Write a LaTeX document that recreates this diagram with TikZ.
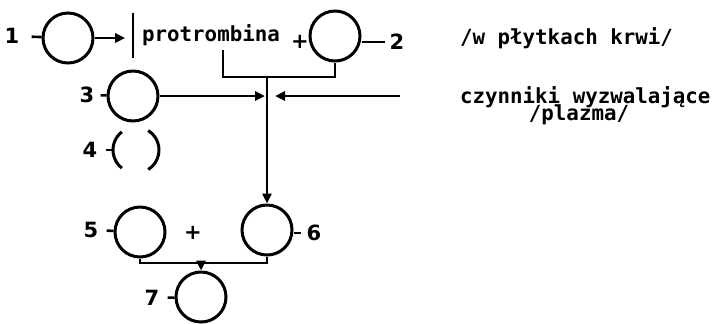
\documentclass[tikz,border=0pt]{standalone}
\usepackage{fontspec}
\usepackage{tikz}
\usetikzlibrary{arrows.meta,positioning,calc}
\newfontfamily\typefont{DejaVu Sans Mono}
\newfontfamily\handfont{DejaVu Sans}

\begin{document}
\begin{tikzpicture}[
  x=0.5pt, y=-0.5pt,
  every node/.style={font=\typefont\bfseries\fontsize{10.4}{12}\selectfont},
  factor/.style={draw, circle, line width=1.5pt, minimum size=25pt, inner sep=0pt},
  num/.style={font=\handfont\bfseries\fontsize{10.5}{12}\selectfont, inner xsep=3pt, inner ysep=1pt},
  tick/.style={line width=1.3pt},
  joint/.style={line width=1.3pt},
  flow/.style={-{Triangle[length=5pt, width=4.5pt]}, line width=1.3pt}
]
  % fixed page size
  \useasboundingbox (0,0) rectangle (715,323);

  % top row: 1 -> protrombina + 2
  \node[factor] (c1) at (68, 38) {};
  \node[num, inner xsep=6pt] (l1) at (12, 36) {1};
  \node[minimum height=22.5pt, inner xsep=4.25pt] (prot) at (211, 35.5) {protrombina};
  \node[num, inner xsep=1pt] (plus1) at (300, 42) {+};
  \node[factor] (c2) at (335, 36) {};
  \node[num, inner xsep=2pt] (l2) at (397, 42) {2};
  \node[anchor=west] (platelets) at (453, 38) {/w płytkach krwi/};

  \draw[tick] (l1) -- (c1);
  \draw[tick] (l2.west) -- (l2.west -| c2.east);
  \draw[line width=0.8pt] (prot.north west) -- (prot.south west);
  \draw[flow, shorten >=4pt] (c1.east) -- (c1.east -| prot.west);

  % junction of protrombina and 2
  \coordinate (j1) at (267, 77);
  \coordinate (m3) at (267, 96);
  \draw[joint] ([xshift=6pt, yshift=4pt]prot.south) |- (j1) -| (c2.south);

  % 3 and triggering factors from plasma
  \node[factor] (c3) at (133, 96) {};
  \node[num] (l3) at (87, 95) {3};
  \coordinate (plasma) at (400, 96);
  \node[anchor=west] (trigger) at (453, 97) {czynniki wyzwalające};
  \node (plazma) at (579, 115) {/plazma/};

  \draw[tick] (l3) -- (c3);
  \draw[flow] (c3.east) -- ([xshift=-1pt]m3);
  \draw[flow] (plasma) -- ([xshift=4pt]m3);

  % 4 in brackets
  \node[circle, minimum size=23pt, inner sep=0pt] (p4) at (136, 150) {};
  \node[num, inner xsep=4pt] (l4) at (90, 150) {4};
  \draw[tick] (l4) -- (p4);
  \draw[line width=1.5pt] (p4.center) ++(128:11.5pt) arc[start angle=128, end angle=232, radius=11.5pt];
  \draw[line width=1.5pt] (p4.center) ++(-58:11.5pt) arc[start angle=-58, end angle=58, radius=11.5pt];

  % second row: 5 + 6
  \node[factor] (c5) at (140, 232) {};
  \node[num, inner xsep=4pt] (l5) at (91, 230) {5};
  \node[num, inner xsep=1pt] (plus2) at (193, 233) {+};
  \node[factor] (c6) at (267, 230) {};
  \node[num, inner xsep=2.5pt] (l6) at (314, 233) {6};

  \draw[tick] (l5) -- (c5);
  \draw[tick] (l6.west) -- (l6.west -| c6.east);
  \draw[flow] (j1) -- (c6.north);

  % product 7
  \coordinate (j2) at (201, 263);
  \node[factor] (c7) at (201, 297) {};
  \node[num, inner xsep=4pt] (l7) at (152, 298) {7};

  \draw[tick] (l7) -- (c7);
  \draw[joint] (c5.south) |- (j2) -| (c6.south);
  \draw[flow] (j2) -- (c7.north);

\end{tikzpicture}
\end{document}
